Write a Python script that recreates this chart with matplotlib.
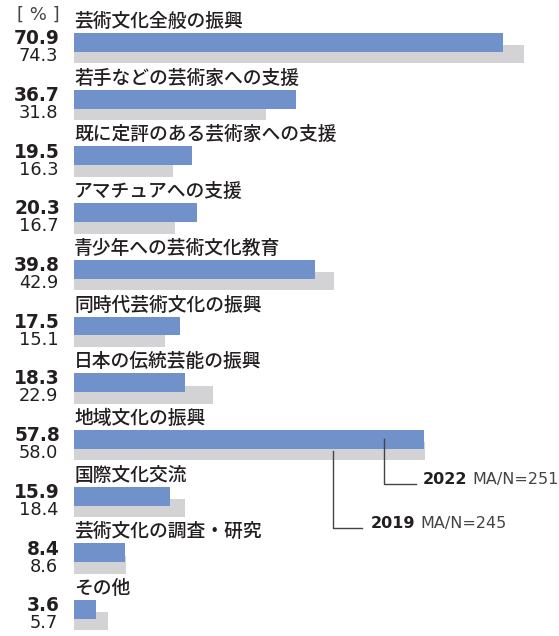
import matplotlib.pyplot as plt

plt.rcParams['font.family'] = ['Noto Sans CJK JP', 'DejaVu Sans']

categories = ['芸術文化全般の振興', '若手などの芸術家への支援', '既に定評のある芸術家への支援',
              'アマチュアへの支援', '青少年への芸術文化教育', '同時代芸術文化の振興',
              '日本の伝統芸能の振興', '地域文化の振興', '国際文化交流',
              '芸術文化の調査・研究', 'その他']
values_2022 = [70.9, 36.7, 19.5, 20.3, 39.8, 17.5, 18.3, 57.8, 15.9, 8.4, 3.6]
values_2019 = [74.3, 31.8, 16.3, 16.7, 42.9, 15.1, 22.9, 58.0, 18.4, 8.6, 5.7]

blue = '#7091c9'
gray = '#d3d3d5'
txt = '#231f20'
num_font = ['DejaVu Sans']

fig = plt.figure(figsize=(5.59, 6.36), dpi=100)
ax = fig.add_axes([74 / 559, 0, 485 / 559, 1])
ax.set_xlim(0, 485 / 6.05)
ax.set_ylim((636 - 42.5) / 56.7, -42.5 / 56.7)
ax.axis('off')

ys = list(range(len(categories)))
ax.barh([y + 0.21 for y in ys], values_2019, height=0.32, color=gray, zorder=1)
ax.barh(ys, values_2022, height=0.335, color=blue, zorder=2)

for y, cat, v22, v19 in zip(ys, categories, values_2022, values_2019):
    ax.text(0, y - 0.37, cat, fontsize=13.5, fontweight='medium', color=txt,
            va='center', ha='left')
    ax.text(-2.3, y + 0.03, f'{v22:.1f}', fontsize=13.4, fontweight='bold', color=txt,
            va='baseline', ha='right', family=num_font)
    ax.text(-2.6, y + 0.33, f'{v19:.1f}', fontsize=12.8, color=txt,
            va='baseline', ha='right', family=num_font)

ax.text(-2.3, -0.41, '[ % ]', fontsize=13, color='#444444', va='baseline', ha='right',
        family=num_font)

# legend callouts
i = categories.index('地域文化の振興')
y22 = (484 - 42.5) / 56.7
y19 = (528 - 42.5) / 56.7
ax.plot([51.2, 51.2, 56.5], [i, y22, y22], color='#444444', lw=1, zorder=3, clip_on=False)
ax.plot([42.8, 42.8, 47.6], [i + 0.21, y19, y19], color='#444444', lw=1, zorder=3, clip_on=False)
ax.text(57.6, y22, '2022', fontsize=11.5, fontweight='bold', color=txt, va='baseline',
        family=num_font)
ax.text(65.8, y22, 'MA/N=251', fontsize=11.5, color='#444444', va='baseline', family=num_font)
ax.text(49.0, y19, '2019', fontsize=11.5, fontweight='bold', color=txt, va='baseline',
        family=num_font)
ax.text(57.2, y19, 'MA/N=245', fontsize=11.5, color='#444444', va='baseline', family=num_font)

fig.savefig('out.png', dpi=100)
